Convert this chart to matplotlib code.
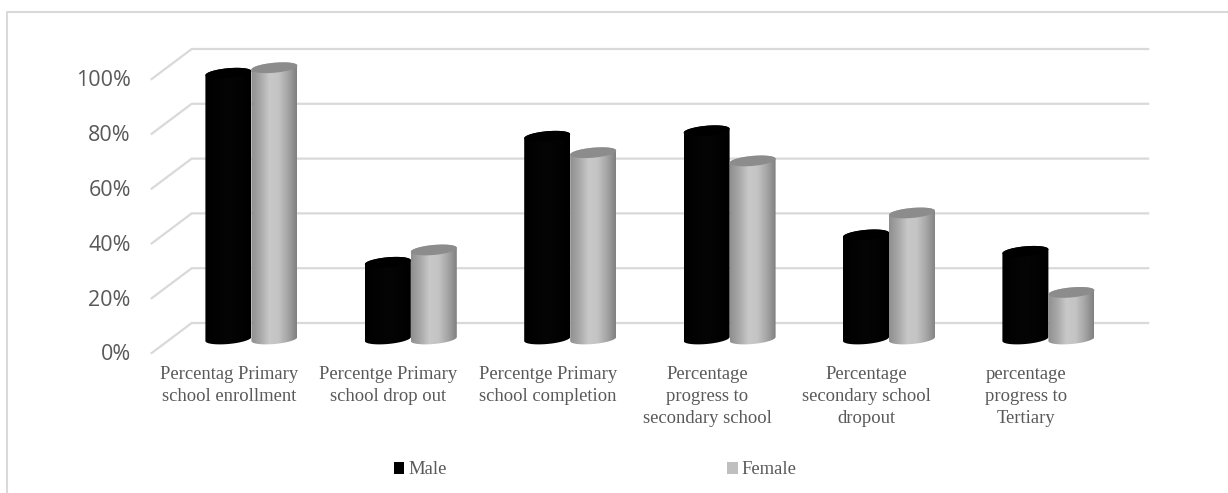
import numpy as np
import matplotlib
matplotlib.use("Agg")
import matplotlib.pyplot as plt
from matplotlib.path import Path
from matplotlib.patches import PathPatch, Patch
from matplotlib.colors import LinearSegmentedColormap
from matplotlib.transforms import ScaledTranslation

categories = ["Percentag Primary\nschool enrollment", "Percentge Primary\nschool drop out",
              "Percentge Primary\nschool completion", "Percentage\nprogress to\nsecondary school",
              "Percentage\nsecondary school\ndropout", "percentage\nprogress to\nTertiary"]
male = [97, 28, 74, 76, 38, 32]
female = [99, 32.5, 68, 65, 46, 17]
yticks = [0, 20, 40, 60, 80, 100]
ytick_labels = ["0%", "20%", "40%", "60%", "80%", "100%"]

W, H = 1228, 493
L, R, T, B = 151.7, 1108.1, 79.0, 353.0
fig = plt.figure(figsize=(W / 100, H / 100), dpi=100, facecolor="white")
ax = fig.add_axes([L / W, 1 - B / H, (R - L) / W, (B - T) / H])
px_x = (R - L) / 6
px_y = (B - T) / 100
dx = 40 / px_x
dy = 30 / px_y
GRID = "#d9d9d9"
TXT = "#595959"

fig.add_artist(plt.Line2D([7 / W, 7 / W, 1], [0, 1 - 12 / H, 1 - 12 / H],
                          color=GRID, lw=1.5, transform=fig.transFigure))

for v in yticks:
    ax.plot([0, dx, 6 + dx], [v, v + dy, v + dy], color=GRID, lw=1.6, clip_on=False,
            solid_joinstyle="miter", zorder=1)

gray_cmap = LinearSegmentedColormap.from_list(
    "cyl_gray", ["#8f8f8f", "#a8a8a8", "#c8c8c8", "#c4c4c4", "#a6a6a6", "#808080"])
black_cmap = LinearSegmentedColormap.from_list("cyl_black", ["#000000", "#050505", "#000000"])

a = 23 / px_x
b = 5.0 / px_y
tilt = 2.0 / px_y
base = 14 / px_y


def cylinder(xc, value, cmap, top_color, z):
    t1 = np.linspace(np.pi, 2 * np.pi, 40)
    bx = xc + a * np.cos(t1)
    by = base + b * np.sin(t1) + tilt * np.cos(t1)
    t2 = np.linspace(0, np.pi, 40)
    tx = xc + a * np.cos(t2)
    ty = base + value + b * np.sin(t2) + tilt * np.cos(t2)
    verts = np.r_[np.c_[bx, by], np.c_[tx, ty]]
    body = PathPatch(Path(np.r_[verts, verts[:1]]), facecolor="none", edgecolor="none",
                     transform=ax.transData)
    ax.add_patch(body)
    im = ax.imshow(np.linspace(0, 1, 128)[None, :], cmap=cmap, aspect="auto",
                   extent=[xc - a, xc + a, 0, value + base + 2 * b + tilt],
                   zorder=z, interpolation="bilinear")
    im.set_clip_box(fig.bbox)
    im.set_clip_path(body)
    tt = np.linspace(0, 2 * np.pi, 80)
    ax.fill(xc + a * np.cos(tt), base + value + b * np.sin(tt) + tilt * np.cos(tt),
            color=top_color, lw=0, zorder=z + 0.1, clip_on=False)


for i, (m, f) in enumerate(zip(male, female)):
    xc = i + 0.5 + dx / 2
    cylinder(xc - a, m, black_cmap, "#000000", 3)
    cylinder(xc + a, f, gray_cmap, "#8c8c8c", 4)

ax.set_xlim(0, 6)
ax.set_ylim(0, 100)
for s in ax.spines.values():
    s.set_visible(False)
ax.set_xticks(np.arange(6) + 0.5 - 0.015, categories, family="Liberation Serif", fontsize=13.4,
              color=TXT, linespacing=1.36)
ax.set_yticks(yticks, ytick_labels, family="Open Sans", fontsize=15.5, color=TXT)
ax.tick_params(axis="x", length=0, pad=9.5)
ax.tick_params(axis="y", length=0, pad=15)
shift = ScaledTranslation(0, 0.5 / 72, fig.dpi_scale_trans)
for lab in ax.get_yticklabels():
    lab.set_transform(lab.get_transform() + shift)

handles = [Patch(facecolor="#000000", label="Male"), Patch(facecolor="#bfbfbf", label="Female")]
leg = fig.legend(handles=handles, ncol=2, frameon=False, loc="center left",
                 bbox_to_anchor=(390 / W, 1 - 470 / H), prop={"family": "Liberation Serif", "size": 13.4},
                 labelcolor=TXT, handlelength=0.55, handleheight=0.55, handletextpad=0.22,
                 columnspacing=15.1, borderpad=0.2, borderaxespad=0)

fig.savefig("out.png", dpi=100, facecolor="white")
